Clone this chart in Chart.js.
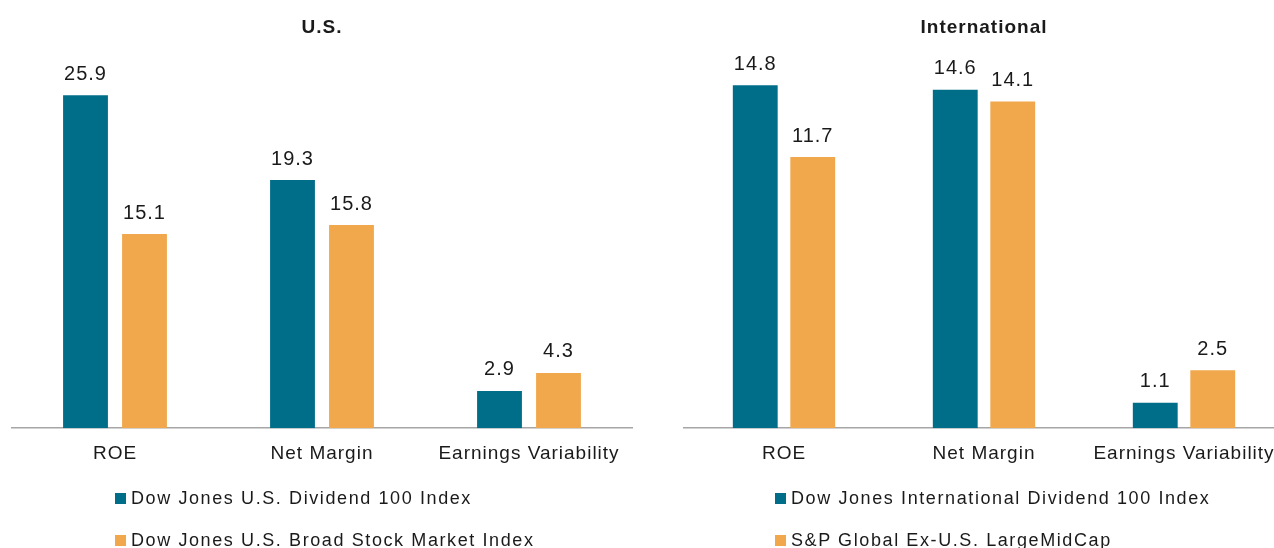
<!DOCTYPE html>
<html>
<head>
<meta charset="utf-8">
<script src="https://cdn.jsdelivr.net/npm/chart.js@4"></script>
<style>
  html, body { margin: 0; padding: 0; background: #fff; overflow: hidden; }
  body { width: 1274px; height: 548px; position: relative; font-family: 'Liberation Sans', Arial, sans-serif; }
  canvas { position: absolute; top: 0; }
  #usChart { left: 0; }
  #intlChart { left: 670px; }
  .legend { position: absolute; font-size: 18px; letter-spacing: 1.6px; color: #1a1a1a; }
  .legend div { position: absolute; white-space: nowrap; display: flex; align-items: center; }
  .legend span.box { display: inline-block; width: 11px; height: 11px; margin-right: 5px; }
</style>
</head>
<body>
<canvas id="usChart" width="640" height="548"></canvas>
<canvas id="intlChart" width="630" height="548"></canvas>
<div class="legend" id="usLegend" style="left:115px; top:0;"></div>
<div class="legend" id="intlLegend" style="left:775px; top:0;"></div>

<script>
// ─── DATA ─────────────────────────────────────────────────────────────────────

const categories = ['ROE', 'Net Margin', 'Earnings Variability'];

const usSeriesNames   = ['Dow Jones U.S. Dividend 100 Index', 'Dow Jones U.S. Broad Stock Market Index'];
const usDividend      = [25.9, 19.3, 2.9];
const usBroadMarket   = [15.1, 15.8, 4.3];

const intlSeriesNames = ['Dow Jones International Dividend 100 Index', 'S&P Global Ex-U.S. LargeMidCap'];
const intlDividend    = [14.8, 14.6, 1.1];
const intlGlobalExUS  = [11.7, 14.1, 2.5];

const TEAL   = '#006E88';
const ORANGE = '#F1A84C';
const FONT   = "'Liberation Sans', Arial, sans-serif";

// ─── PLUGINS ──────────────────────────────────────────────────────────────────

const spacingPlugin = {
  id: 'spacing',
  beforeDraw(chart) { chart.ctx.letterSpacing = '1px'; }
};

const valueLabels = {
  id: 'valueLabels',
  afterDatasetsDraw(chart) {
    const ctx = chart.ctx;
    ctx.save();
    ctx.letterSpacing = '1px';
    ctx.font = '20px ' + FONT;
    ctx.fillStyle = '#1a1a1a';
    ctx.textAlign = 'center';
    ctx.textBaseline = 'alphabetic';
    chart.data.datasets.forEach((ds, i) => {
      chart.getDatasetMeta(i).data.forEach((bar, j) => {
        ctx.fillText(ds.data[j].toFixed(1), bar.x, bar.y - 15.5);
      });
    });
    ctx.restore();
  }
};

// ─── CHART BUILDER ────────────────────────────────────────────────────────────

function makeChart(id, title, names, a, b, opts) {
  return new Chart(document.getElementById(id), {
    type: 'bar',
    data: {
      labels: categories,
      datasets: [
        { label: names[0], data: a, backgroundColor: TEAL,
          categoryPercentage: opts.catPct, barPercentage: opts.barPct },
        { label: names[1], data: b, backgroundColor: ORANGE,
          categoryPercentage: opts.catPct, barPercentage: opts.barPct },
      ]
    },
    options: {
      responsive: false,
      animation: false,
      layout: { padding: { left: opts.padLeft, right: opts.padRight, top: 0, bottom: 69 } },
      plugins: {
        legend: { display: false },
        tooltip: { enabled: false },
        title: {
          display: true,
          text: title,
          color: '#1a1a1a',
          font: { family: FONT, size: 19, weight: 'bold' },
          padding: { top: 16.6, bottom: opts.titleGap }
        }
      },
      scales: {
        x: {
          grid: { display: false, drawTicks: false },
          border: { display: true, color: '#A6A6A6', width: 1.5 },
          ticks: { color: '#1a1a1a', font: { family: FONT, size: 19 }, padding: 14, maxRotation: 0, autoSkip: false }
        },
        y: {
          display: false,
          min: 0,
          max: opts.yMax
        }
      }
    },
    plugins: [spacingPlugin, valueLabels]
  });
}

function buildLegend(elId, chart) {
  const el = document.getElementById(elId);
  const tops = [488, 530];
  el.innerHTML = chart.data.datasets.map((ds, i) => `
    <div style="top:${tops[i]}px"><span class="box" style="background:${ds.backgroundColor}"></span>${ds.label}</div>
  `).join('');
}

const usChart = makeChart('usChart', 'U.S.', usSeriesNames, usDividend, usBroadMarket,
  { catPct: 0.57, barPct: 0.76, padLeft: 11.5, padRight: 7.5, titleGap: 3, yMax: 30 });

const intlChart = makeChart('intlChart', 'International', intlSeriesNames, intlDividend, intlGlobalExUS,
  { catPct: 0.575, barPct: 0.78, padLeft: 14, padRight: 16, titleGap: 18, yMax: 16 });

buildLegend('usLegend', usChart);
buildLegend('intlLegend', intlChart);
</script>
</body>
</html>
